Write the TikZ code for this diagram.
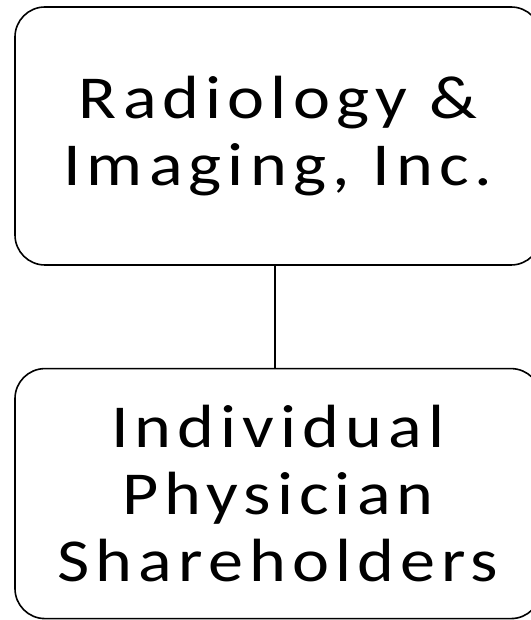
\documentclass[tikz,border=0pt]{standalone}
\usepackage{fontspec}
\setmainfont{Carlito}[FakeStretch=1.15,LetterSpace=10]
\usetikzlibrary{positioning}

\begin{document}
\begin{tikzpicture}[node distance=102pt,line width=1.6pt,
  every node/.style={draw,rounded corners=30pt,align=center,
    minimum width=526pt,font=\fontsize{61}{67}\selectfont}]

\useasboundingbox (0,0) rectangle (530pt,620pt);

\node[minimum height=258pt] (ri) at (278pt,484pt) {Radiology \&\\Imaging, Inc.};
 \node[minimum height=250pt] (ips) [below=of ri] {Individual\\Physician\\Shareholders};

	\path (ri.south -| 275pt,0) edge (ips.north -| 275pt,0);

\end{tikzpicture}
\end{document}
